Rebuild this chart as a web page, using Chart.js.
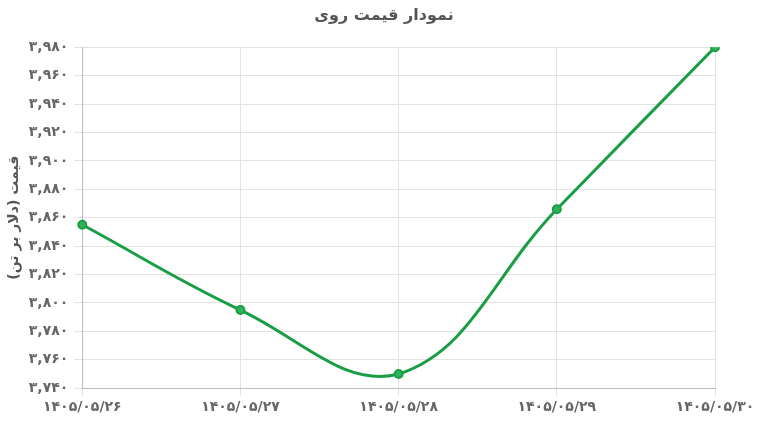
<!DOCTYPE html>
<html>
<head>
<meta charset="utf-8">
<script src="https://cdn.jsdelivr.net/npm/chart.js@4"></script>
<style>
  html, body { margin: 0; padding: 0; background: #fff; }
  #wrap { width: 762px; height: 427px; }
</style>
</head>
<body>
<div id="wrap"><canvas id="chart"></canvas></div>
<script>
const dates = ["1405/05/26", "1405/05/27", "1405/05/28", "1405/05/29", "1405/05/30"];
const prices = [3855, 3795, 3750, 3866, 3980];
const yMin = 3740;
const yMax = 3980;
const yStep = 20;

// latin digits -> persian digits
const faDigits = "۰۱۲۳۴۵۶۷۸۹";
const toFa = (s) => String(s).replace(/[0-9]/g, (d) => faDigits[d]);
const fmtNum = (v) => toFa(Math.round(v).toString().replace(/\B(?=(\d{3})+(?!\d))/g, ","));

const font = "'DejaVu Sans', sans-serif";

new Chart(document.getElementById("chart"), {
  type: "line",
  data: {
    labels: dates.map(toFa),
    datasets: [
      {
        data: prices,
        borderColor: "#1a9e45",
        backgroundColor: "#1a9e45",
        pointBackgroundColor: "#2fb35a",
        pointBorderColor: "#1a9e45",
        borderWidth: 3,
        pointRadius: 4,
        pointBorderWidth: 2,
        tension: 0.4,
        fill: false,
      },
    ],
  },
  options: {
    responsive: true,
    maintainAspectRatio: false,
    animation: false,
    layout: { padding: { left: 6, right: 0, top: 0, bottom: 8 } },
    plugins: {
      legend: { display: false },
      tooltip: { enabled: false },
      title: {
        display: true,
        text: "نمودار قیمت روی",
        color: "#555",
        font: { family: font, size: 16, weight: "bold" },
        padding: { top: 6, bottom: 22 },
      },
    },
    scales: {
      x: {
        grid: { color: "#e2e2e2" },
        border: { color: "#bdbdbd" },
        // keep room on the right for the last date, without shifting the title
        afterFit: (scale) => { scale.paddingRight = 47; },
        ticks: {
          color: "#666",
          font: { family: font, size: 14, weight: "bold" },
          maxRotation: 0,
          padding: 3,
        },
      },
      y: {
        min: yMin,
        max: yMax,
        grid: { color: "#e2e2e2" },
        border: { color: "#bdbdbd" },
        ticks: {
          stepSize: yStep,
          color: "#666",
          font: { family: font, size: 14, weight: "bold" },
          callback: (v) => fmtNum(v),
          padding: 6,
        },
        title: {
          display: true,
          text: "قیمت (دلار بر تن)",
          color: "#555",
          font: { family: font, size: 14, weight: "bold" },
          padding: 0,
        },
      },
    },
  },
});
</script>
</body>
</html>
